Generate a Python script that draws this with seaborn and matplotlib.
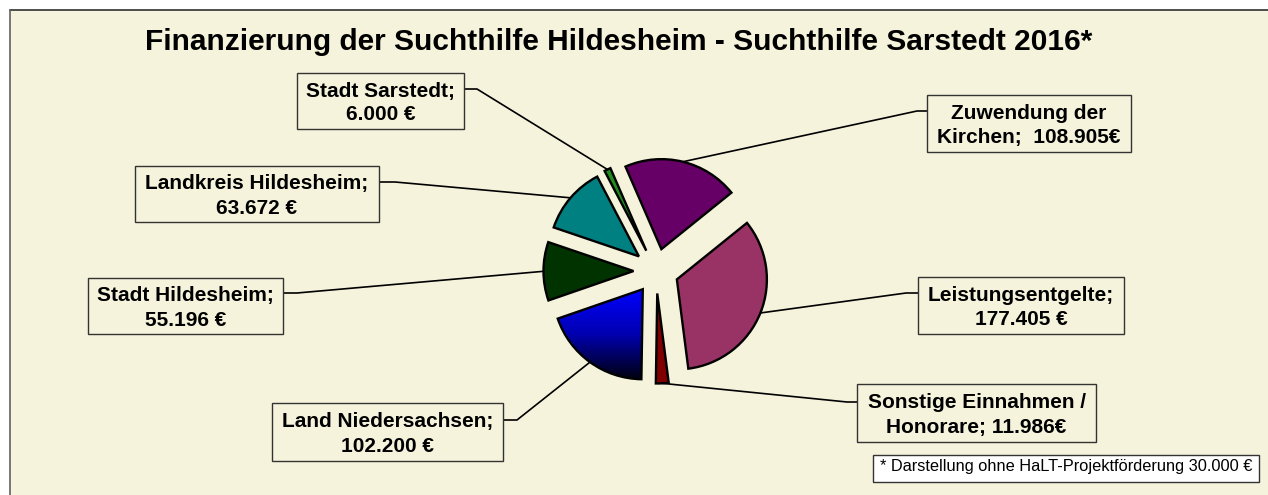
import numpy as np
import matplotlib.pyplot as plt
from matplotlib.patches import Rectangle
from matplotlib.colors import LinearSegmentedColormap
import seaborn as sns

# ---- data ----
categories = ["Zuwendung der Kirchen", "Leistungsentgelte", "Sonstige Einnahmen / Honorare",
              "Land Niedersachsen", "Stadt Hildesheim", "Landkreis Hildesheim", "Stadt Sarstedt"]
values = [108905, 177405, 11986, 102200, 55196, 63672, 6000]
label_lines = [
    ("Zuwendung der", "Kirchen;  108.905€"),
    ("Leistungsentgelte;", "177.405 €"),
    ("Sonstige Einnahmen /", "Honorare; 11.986€"),
    ("Land Niedersachsen;", "102.200 €"),
    ("Stadt Hildesheim;", "55.196 €"),
    ("Landkreis Hildesheim;", "63.672 €"),
    ("Stadt Sarstedt;", "6.000 €"),
]
slice_colors = ["#660066", "#993366", "#800000", "#0000FF", "#003300", "#008080", "#1E8C1E"]
title = "Finanzierung der Suchthilfe Hildesheim - Suchthilfe Sarstedt 2016*"
footnote = "* Darstellung ohne HaLT-Projektförderung 30.000 €"

# ---- layout (pixels, y measured from the top) ----
W, H = 1268, 495
bg = "#F5F3DC"
pie_center = (656, 271)
pie_radius = 90
explode_px = 22.5
boxes = [  # x0, y0, x1, y1
    (927, 95, 1131, 152),
    (918, 277, 1124, 334),
    (857, 384, 1096, 442),
    (272, 403, 503, 461),
    (88, 278, 283, 334),
    (135, 166, 379, 222),
    (297, 73, 464, 129),
]
elbows = [(917, 111), (906, 293), (847, 402), (517, 420), (297, 293), (395, 182), (477, 89)]

sns.set_theme(style="white")
plt.rcParams['font.family'] = ['Liberation Sans', 'DejaVu Sans']

fig = plt.figure(figsize=(W / 100, H / 100), dpi=100)
fig.patch.set_facecolor("white")
ax = fig.add_axes([0, 0, 1, 1])


def fy(y):
    return H - y


# chart area background with top/left frame
ax.add_patch(Rectangle((10, 0), W - 10, H - 10, facecolor=bg, edgecolor="none", zorder=0))
ax.plot([10, W], [fy(10), fy(10)], color="#303030", lw=1.2, zorder=1)
ax.plot([10, 10], [fy(10), 0], color="#606060", lw=1.2, zorder=1)

wedges, _ = ax.pie(values, colors=slice_colors, startangle=113.5, counterclock=False,
                   radius=pie_radius, center=(pie_center[0], fy(pie_center[1])),
                   explode=[explode_px] * len(values), frame=True,
                   wedgeprops=dict(edgecolor="black", linewidth=1.7))
for w in wedges:
    w.set_zorder(3)

# gradient fill for Land Niedersachsen (blue -> black, top to bottom)
land = wedges[categories.index("Land Niedersachsen")]
bb = land.get_path().get_extents(land.get_patch_transform())
cmap = LinearSegmentedColormap.from_list("bl", ["#000010", "#0000B0", "#0000FF"])
grad = np.linspace(0, 1, 256).reshape(-1, 1)
im = ax.imshow(grad, cmap=cmap, origin="lower", aspect="auto",
               extent=(bb.x0, bb.x1, bb.y0, bb.y1), zorder=2.5)
im.set_clip_path(land)
land.set_facecolor("none")

# leader lines + label boxes
for w, lines, box, elb in zip(wedges, label_lines, boxes, elbows):
    mid = np.deg2rad((w.theta1 + w.theta2) / 2)
    px = w.center[0] + w.r * np.cos(mid)
    py = w.center[1] + w.r * np.sin(mid)
    x0, y0, x1, y1 = box
    attach_x = x0 if x0 > pie_center[0] else x1
    ax.plot([px, elb[0], attach_x], [py, fy(elb[1]), fy(elb[1])],
            color="black", lw=1.2, zorder=4, solid_capstyle="butt")
    ax.add_patch(Rectangle((x0, fy(y1)), x1 - x0, y1 - y0, facecolor=bg,
                           edgecolor="#333333", lw=1.0, zorder=5))
    cx, cy = (x0 + x1) / 2, (y0 + y1) / 2
    ax.text(cx, fy(cy - 4.5), lines[0], ha="center", va="baseline",
            fontsize=15, fontweight="bold", color="black", zorder=6)
    ax.text(cx, fy(cy + 19.5), lines[1], ha="center", va="baseline",
            fontsize=15, fontweight="bold", color="black", zorder=6)

# title
ax.text(619, fy(50), title, ha="center", va="baseline", fontsize=21.5,
        fontweight="bold", color="black", zorder=6)

# footnote
ax.add_patch(Rectangle((873, fy(482)), 386, 27, facecolor="white",
                       edgecolor="#333333", lw=1.0, zorder=5))
ax.text(1066, fy(471), footnote, ha="center", va="baseline", fontsize=11.8,
        color="black", zorder=6)

ax.set_xlim(0, W)
ax.set_ylim(0, H)
ax.set_aspect("equal")
ax.axis("off")

fig.savefig("out.png", dpi=100, facecolor="white")
